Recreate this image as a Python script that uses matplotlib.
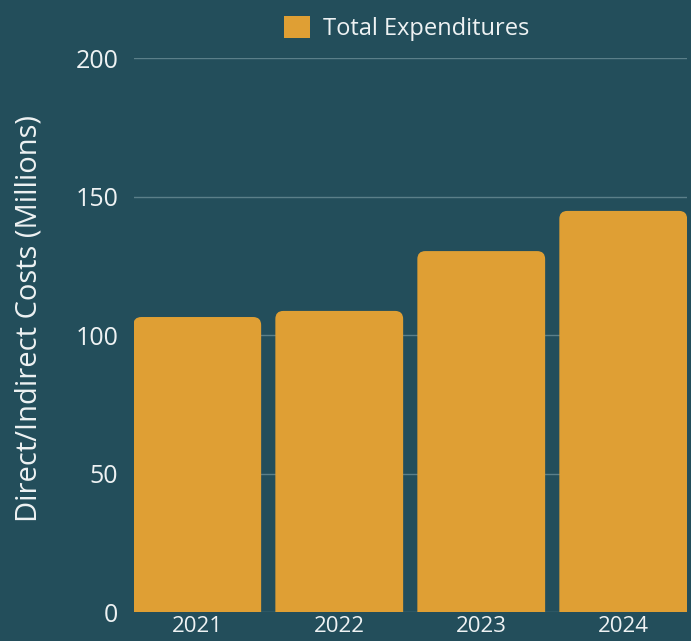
import matplotlib.pyplot as plt
from matplotlib.patches import FancyBboxPatch, Rectangle

years = ["2021", "2022", "2023", "2024"]
expenditures = [106.5, 108.7, 130.3, 144.8]
y_ticks = [0, 50, 100, 150, 200]

BG = "#234e5b"
BAR = "#df9f34"
TEXT = "#eef2f3"
GRID = "#5b7f89"

plt.rcParams["font.family"] = ["Open Sans", "DejaVu Sans"]

fig = plt.figure(figsize=(6.91, 6.41), dpi=100, facecolor=BG)
ax = fig.add_axes([0.1932, 0.0452, 0.801, 0.8643], facecolor=BG)

x = list(range(len(years)))
bars = ax.bar(x, expenditures, width=0.9, color=BAR, label="Total Expenditures", zorder=2)

ax.set_xlim(-0.449, 3.449)
ax.set_ylim(0, 200)

# swap the square bars for ones with rounded top corners
# (box runs below zero so its lower corners get clipped away)
px_x = 553.5 / 3.898
px_y = 554 / 200
radius = 8 / px_x
for b in bars:
    b.set_visible(False)
    x0, w, h = b.get_x(), b.get_width(), b.get_height()
    ax.add_patch(FancyBboxPatch((x0, -h), w, 2 * h,
                                boxstyle=f"round,pad=0,rounding_size={radius}",
                                mutation_aspect=px_x / px_y,
                                facecolor=BAR, edgecolor="none", zorder=2))

ax.set_yticks(y_ticks)
ax.set_xticks(x)
ax.set_xticklabels(years)
ax.grid(axis="y", color=GRID, linewidth=1, zorder=0)
ax.tick_params(axis="both", length=0, colors=TEXT, labelsize=18)
ax.tick_params(axis="y", pad=11)
ax.tick_params(axis="x", pad=3, labelsize=16)
for s in ax.spines.values():
    s.set_visible(False)

ax.set_ylabel("Direct/Indirect Costs (Millions)", color=TEXT, fontsize=21)
ax.yaxis.set_label_coords(-0.162, 0.529)

handle = Rectangle((0, 0), 1, 1, facecolor=BAR, edgecolor="none")
leg = fig.legend([handle], ["Total Expenditures"], loc="center", bbox_to_anchor=(0.588, 0.956),
                 frameon=False, fontsize=17, handlelength=1.1, handleheight=1.1,
                 handletextpad=0.55, labelcolor=TEXT)

fig.savefig("out.png", dpi=100, facecolor=BG)
